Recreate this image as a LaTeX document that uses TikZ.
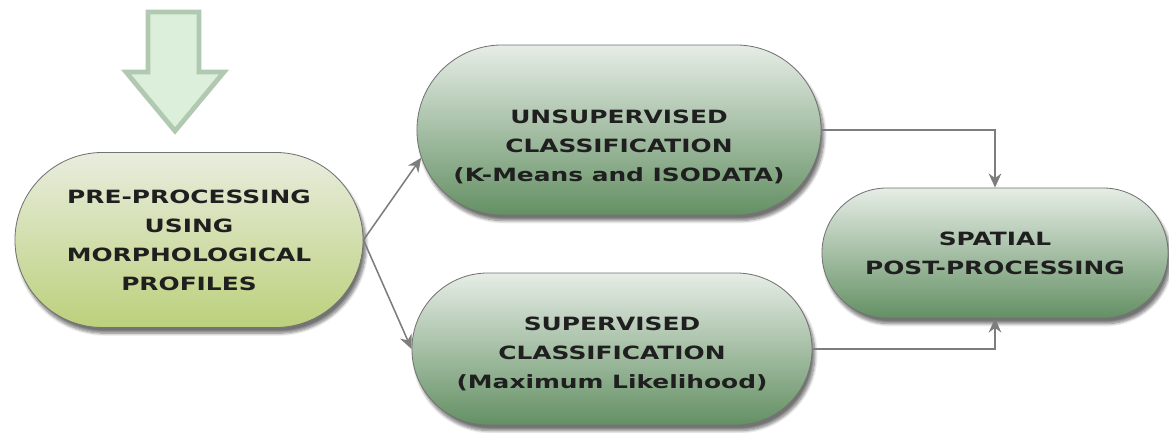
\documentclass[tikz,border=0pt]{standalone}
\usepackage{xcolor}
\usepackage{tikz}
\usepackage{fontspec}
\setmainfont{DejaVu Sans}[FakeStretch=1.36]
\usetikzlibrary{shapes.misc, arrows.meta, positioning, shadows.blur}
\definecolor{pretop}{RGB}{232, 237, 222}
\definecolor{prebottom}{RGB}{188, 208, 124}
\definecolor{classtop}{RGB}{230, 237, 230}
\definecolor{classbottom}{RGB}{100, 144, 100}
\definecolor{bordergray}{RGB}{115, 115, 115}
\definecolor{arrowgray}{RGB}{125, 125, 125}
\definecolor{bigfill}{RGB}{219, 239, 219}
\definecolor{bigline}{RGB}{176, 201, 176}
\tikzstyle{stagetext} = [align=center, text=black!88, font=\fontsize{13}{20.6}\selectfont\bfseries]
\tikzstyle{stage} = [rounded rectangle, inner sep=0pt, stagetext, draw=bordergray, line width=0.6pt, blur shadow={shadow xshift=2pt, shadow yshift=-4pt, shadow blur steps=8, shadow opacity=55}]
\tikzstyle{prestage} = [stage, top color=pretop, bottom color=prebottom]
\tikzstyle{classstage} = [stage, top color=classtop, bottom color=classbottom]
\tikzstyle{arrow} = [draw=arrowgray, line width=1.1pt, -{Stealth[length=10pt, width=9pt]}]

\begin{document}
\begin{tikzpicture}[x=0.025cm, y=-0.025cm]
\useasboundingbox (0,0) rectangle (1169,433);

% Flèche d'entrée
\draw [fill=bigfill, draw=bigline, line width=3.4pt] (148,12) -- (199,12) -- (199,72) -- (224,72) -- (175,131) -- (126,72) -- (148,72) -- cycle;

% Étapes
\node (pre) [prestage, minimum width=8.7cm, minimum height=4.375cm] at (189,240) {PRE-PROCESSING\\USING\\MORPHOLOGICAL\\PROFILES};
\node (unsup) [classstage, minimum width=10.1cm, minimum height=4.25cm, label={[stagetext, yshift=-0.42cm]center:UNSUPERVISED\\CLASSIFICATION\\(K-Means and ISODATA)}] at (619,130) {};
\node (sup) [classstage, minimum width=10cm, minimum height=3.8cm, label={[stagetext, yshift=-0.12cm]center:SUPERVISED\\CLASSIFICATION\\(Maximum Likelihood)}] at (612,349) {};
\node (spatial) [classstage, minimum width=8.65cm, minimum height=3.25cm] at (995,253) {SPATIAL\\POST-PROCESSING};

% Flèches
\draw [arrow] (pre.east) -- (unsup.188);
\draw [arrow] (pre.east) -- (sup.west);
\draw [arrow] (unsup.east) -| (spatial.north);
\draw [arrow] (sup.east) -| (spatial.south);

\end{tikzpicture}
\end{document}
